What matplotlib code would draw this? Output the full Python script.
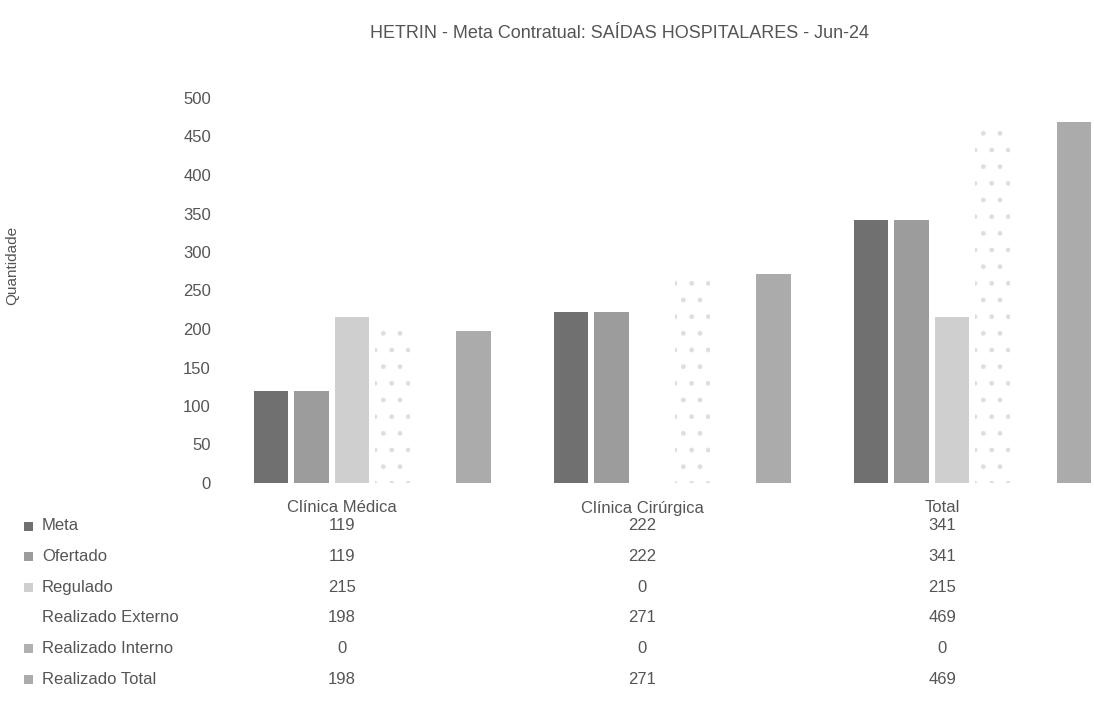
import matplotlib.pyplot as plt
import numpy as np
from matplotlib.transforms import blended_transform_factory
from matplotlib.patches import Rectangle

plt.rcParams['font.family'] = ['Liberation Sans', 'DejaVu Sans']

categorias = ["Clínica Médica", "Clínica Cirúrgica", "Total"]
series = ["Meta", "Ofertado", "Regulado", "Realizado Externo", "Realizado Interno", "Realizado Total"]
meta = [119, 222, 341]
ofertado = [119, 222, 341]
regulado = [215, 0, 215]
realizado_externo = [198, 271, 469]
realizado_interno = [0, 0, 0]
realizado_total = [198, 271, 469]
valores = [meta, ofertado, regulado, realizado_externo, realizado_interno, realizado_total]

cores = ["#707070", "#9c9c9c", "#cfcfcf", "#f4f4f4", "#b0b0b0", "#ababab"]
texto = "#555555"

fig = plt.figure(figsize=(10.94, 7.07), dpi=100)
ax = fig.add_axes([222/1094, 1 - 483/707, (1094 - 222)/1094, (483 - 98)/707])

x = np.arange(len(categorias))
w = 0.135
for i, (nome, v) in enumerate(zip(series, valores)):
    pos = x + (i - 2.5) * w
    if nome == "Realizado Externo":
        # quase invisivel no original (pontilhado bem claro)
        ax.bar(pos, v, width=w * 0.85, color="white", edgecolor="#dedede",
               hatch=".", linewidth=0)
    else:
        ax.bar(pos, v, width=w * 0.85, color=cores[i], linewidth=0)

ax.set_xlim(-0.5, 2.405)
ax.set_ylim(0, 500)
ax.set_yticks(np.arange(0, 501, 50))
ax.tick_params(axis='y', length=0, labelsize=12, labelcolor=texto, pad=8)
ax.set_xticks([])
for s in ax.spines.values():
    s.set_visible(False)

fig.text(12/1094, 1 - 265/707, "Quantidade", rotation=90, ha='center', va='center',
         fontsize=11, color=texto)
fig.text(620/1094, 1 - 34/707, "HETRIN - Meta Contratual: SAÍDAS HOSPITALARES - Jun-24",
         ha='center', va='center', fontsize=13, color=texto)

# tabela de dados
tr = blended_transform_factory(ax.transData, fig.transFigure)
for j, cat in enumerate(categorias):
    ax.text(j - 0.1, 1 - 508/707, cat, transform=tr, ha='center', va='center',
            fontsize=12, color=texto)
for i, (nome, v) in enumerate(zip(series, valores)):
    yy = 1 - (526 + 30.6 * i) / 707
    if nome != "Realizado Externo":
        fig.add_artist(Rectangle((24/1094, yy - 4.5/707), 9/1094, 9/707,
                                 transform=fig.transFigure, color=cores[i], lw=0))
    fig.text(42/1094, yy, nome, ha='left', va='center', fontsize=12, color=texto)
    for j in range(len(categorias)):
        ax.text(j - 0.1, yy, str(v[j]), transform=tr, ha='center', va='center',
                fontsize=12, color=texto)

fig.savefig("out.png", dpi=100)
